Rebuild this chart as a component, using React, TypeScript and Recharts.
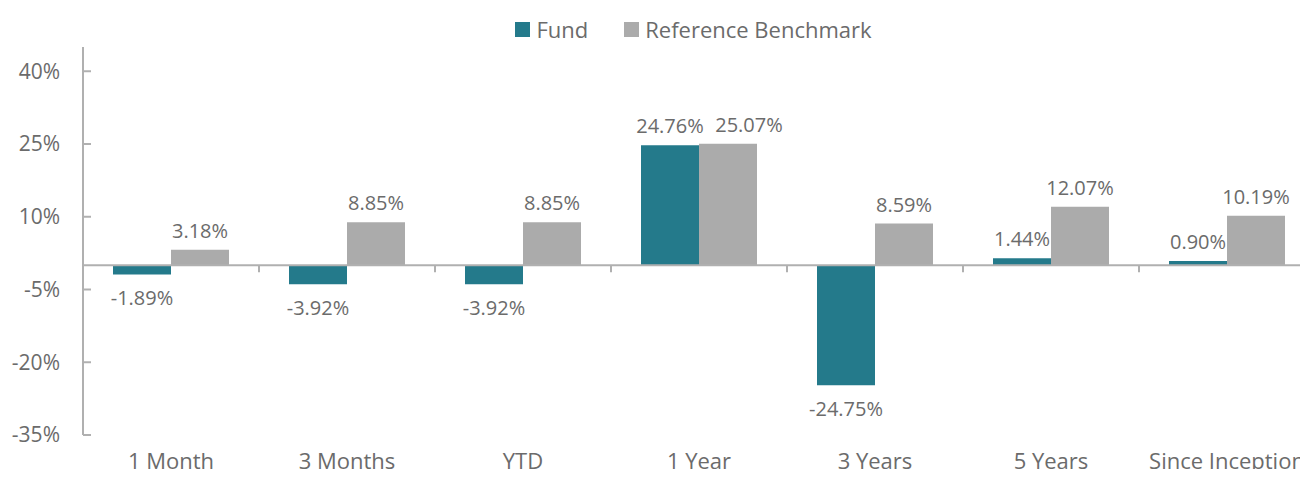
import { BarChart, Bar, XAxis, YAxis, ReferenceLine, Legend, LabelList } from 'recharts';

const PERIODS = ['1 Month', '3 Months', 'YTD', '1 Year', '3 Years', '5 Years', 'Since Inception'];
const FUND = [-1.89, -3.92, -3.92, 24.76, -24.75, 1.44, 0.9];
const BENCHMARK = [3.18, 8.85, 8.85, 25.07, 8.59, 12.07, 10.19];
const Y_TICKS = [40, 25, 10, -5, -20, -35];
const SERIES = [
  { key: 'fund', name: 'Fund', color: '#247a8b' },
  { key: 'benchmark', name: 'Reference Benchmark', color: '#ababab' },
];

const TEXT = '#6b6b6b';
const AXIS = '#b0b0b0';
const FONT = '"Open Sans", sans-serif';

const chartData = PERIODS.map((period, i) => ({
  period,
  fund: FUND[i],
  benchmark: BENCHMARK[i],
}));

const YTick = (props: any) => {
  const { x, y, payload } = props;
  return (
    <g>
      <line x1={x} x2={x + 8} y1={y} y2={y} stroke={AXIS} strokeWidth={2} />
      <text x={x - 23} y={y} dy="0.35em" textAnchor="end" fill={TEXT} fontSize={21} fontFamily={FONT}>
        {`${payload.value}%`}
      </text>
    </g>
  );
};

const XTick = (props: any) => {
  const { x, y, payload } = props;
  return (
    <text x={x} y={y + 34} textAnchor="middle" fill={TEXT} fontSize={22} fontFamily={FONT}>
      {payload.value}
    </text>
  );
};

const makeLabel = (seriesKey: string) => (props: any) => {
  const { x, y, width, height, value, index } = props;
  const top = Math.min(y, y + height);
  const bottom = Math.max(y, y + height);
  const ty = value >= 0 ? top - 12 : bottom + 31;
  // nudge the benchmark label right when the fund label sits beside it at the same height
  let dx = 0;
  if (seriesKey === 'benchmark' && FUND[index] >= 0 && Math.abs(FUND[index] - value) < 3) dx = 21;
  return (
    <text x={x + width / 2 + dx} y={ty} textAnchor="middle" fill={TEXT} fontSize={20} fontFamily={FONT}>
      {`${Number(value).toFixed(2)}%`}
    </text>
  );
};

// zero line with small marks at the category boundaries
const ZeroLine = (props: any) => {
  const { x1, x2, y1 } = props;
  const step = (x2 - x1) / PERIODS.length;
  return (
    <g>
      <line x1={x1} x2={x2} y1={y1} y2={y1} stroke={AXIS} strokeWidth={2} />
      {PERIODS.map((p, i) => (
        <line key={p} x1={x1 + step * (i + 1)} x2={x1 + step * (i + 1)} y1={y1} y2={y1 + 7} stroke={AXIS} strokeWidth={2} />
      ))}
    </g>
  );
};

const LegendContent = () => (
  <div
    style={{
      display: 'flex',
      justifyContent: 'center',
      alignItems: 'center',
      gap: 36,
      paddingLeft: 72,
      paddingTop: 14,
      fontFamily: FONT,
      fontSize: 22,
      color: TEXT,
    }}
  >
    {SERIES.map((s) => (
      <div key={s.key} style={{ display: 'flex', alignItems: 'center', gap: 6 }}>
        <span style={{ width: 15, height: 15, background: s.color, display: 'inline-block' }} />
        <span>{s.name}</span>
      </div>
    ))}
  </div>
);

export default function App() {
  return (
    <div style={{ width: 1308, height: 477, overflow: 'hidden', margin: -8, background: '#fff' }}>
      <BarChart
        width={1315}
        height={477}
        data={chartData}
        margin={{ top: 0, right: 0, bottom: 0, left: 0 }}
        barGap={0}
      >
        <Legend verticalAlign="top" height={47} content={<LegendContent />} />
        <YAxis
          width={83}
          domain={[-35, 45]}
          ticks={Y_TICKS}
          interval={0}
          tickSize={0}
          tickMargin={0}
          tickLine={false}
          axisLine={{ stroke: AXIS, strokeWidth: 2 }}
          tick={<YTick />}
        />
        <XAxis
          dataKey="period"
          height={42}
          tickSize={0}
          tickMargin={0}
          axisLine={false}
          tickLine={false}
          interval={0}
          tick={<XTick />}
        />
        <ReferenceLine y={0} shape={<ZeroLine />} />
        {SERIES.map((s) => {
          const Label = makeLabel(s.key);
          return (
            <Bar key={s.key} dataKey={s.key} name={s.name} fill={s.color} barSize={58} isAnimationActive={false}>
              <LabelList dataKey={s.key} content={<Label />} />
            </Bar>
          );
        })}
      </BarChart>
    </div>
  );
}
